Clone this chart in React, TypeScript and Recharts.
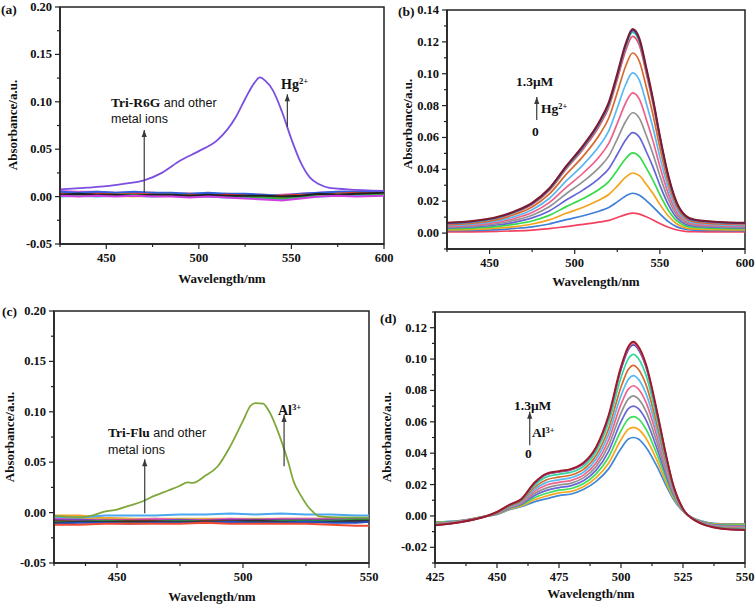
import React from 'react';
import { LineChart, Line, XAxis, YAxis, ReferenceArea, ReferenceLine, ReferenceDot } from 'recharts';

const FONT = "'Liberation Serif','Times New Roman',serif";
const SANS = "'Liberation Sans',Arial,sans-serif";
const INK = '#222';

// ---------- Panel (a): Tri-R6G + metal ions ----------
const aPeakWl = [425, 440, 450, 460, 470, 480, 490, 500, 510, 520, 525, 530, 533, 536, 540, 545, 550, 555, 560, 565, 570, 580, 600];
const aHg = [0.0077, 0.0095, 0.011, 0.0137, 0.0168, 0.025, 0.038, 0.048, 0.0595, 0.084, 0.103, 0.12, 0.1257, 0.122, 0.112, 0.089, 0.0605, 0.036, 0.02, 0.013, 0.0095, 0.0077, 0.006];
const aFlatWl = [425, 435, 445, 455, 465, 475, 485, 495, 505, 515, 525, 535, 545, 555, 565, 575, 585, 600];
const aBlue = [0.005, 0.004, 0.005, 0.004, 0.005, 0.004, 0.004, 0.003, 0.004, 0.003, 0.003, 0.002, 0.001, 0.003, 0.004, 0.005, 0.005, 0.006];
const aMagenta = [0.001, 0.0, 0.001, 0.0, 0.001, 0.0, 0.0, -0.001, 0.0, -0.001, -0.002, -0.003, -0.004, -0.002, 0.0, 0.001, 0.0, 0.001];
const aGreen = [0.002, 0.002, 0.001, 0.002, 0.002, 0.001, 0.002, 0.001, 0.001, 0.0, 0.0, -0.001, -0.002, 0.0, 0.002, 0.002, 0.003, 0.002];
const aRed = [0.003, 0.002, 0.003, 0.002, 0.003, 0.002, 0.001, 0.002, 0.001, 0.002, 0.001, 0.0, 0.001, 0.002, 0.002, 0.003, 0.004, 0.003];
const aBlack = [0.002, 0.003, 0.002, 0.002, 0.001, 0.002, 0.002, 0.001, 0.002, 0.001, 0.001, 0.001, 0.0, 0.001, 0.003, 0.002, 0.003, 0.004];
const aYellow = [0.001, 0.001, 0.002, 0.001, 0.0, 0.001, 0.001, 0.0, 0.001, 0.0, 0.0, -0.001, -0.001, 0.001, 0.001, 0.002, 0.002, 0.003];
const aCyan = [0.0, 0.001, 0.0, 0.001, 0.001, 0.0, 0.001, 0.0, 0.0, -0.001, -0.001, -0.002, -0.003, -0.001, 0.0, 0.001, 0.001, 0.002];
const aOrange = [0.004, 0.003, 0.004, 0.003, 0.003, 0.004, 0.003, 0.003, 0.002, 0.003, 0.002, 0.002, 0.001, 0.002, 0.003, 0.004, 0.004, 0.004];
const aPink = [0.006, 0.005, 0.005, 0.004, 0.004, 0.004, 0.003, 0.003, 0.003, 0.002, 0.002, 0.001, 0.002, 0.003, 0.004, 0.005, 0.005, 0.005];

// ---------- Panel (b): Hg2+ titration ----------
const bWl = [425, 440, 455, 465, 475, 485, 495, 505, 515, 520, 525, 530, 534, 538, 542, 546, 550, 555, 560, 565, 570, 585, 600];
const b01 = [0.0007, 0.0008, 0.0011, 0.0014, 0.0019, 0.0028, 0.0041, 0.0054, 0.007, 0.008, 0.0098, 0.0116, 0.0125, 0.0119, 0.0102, 0.0082, 0.006, 0.0036, 0.0019, 0.0011, 0.0009, 0.0007, 0.0007];
const b02 = [0.0015, 0.0017, 0.0022, 0.0029, 0.0039, 0.0057, 0.0084, 0.0109, 0.014, 0.0161, 0.0196, 0.0233, 0.025, 0.0238, 0.0204, 0.0165, 0.0121, 0.0072, 0.0039, 0.0024, 0.0019, 0.0016, 0.0015];
const b03 = [0.002, 0.0023, 0.0031, 0.0041, 0.0057, 0.0083, 0.0124, 0.0162, 0.021, 0.0242, 0.0295, 0.0351, 0.0377, 0.036, 0.0307, 0.0248, 0.018, 0.0107, 0.0057, 0.0033, 0.0026, 0.0021, 0.002];
const b04 = [0.0027, 0.0031, 0.0042, 0.0056, 0.0076, 0.0111, 0.0166, 0.0217, 0.028, 0.0323, 0.0394, 0.0468, 0.0503, 0.048, 0.0409, 0.0331, 0.0241, 0.0143, 0.0076, 0.0045, 0.0035, 0.0029, 0.0027];
const b05 = [0.0033, 0.0038, 0.0052, 0.0069, 0.0095, 0.0139, 0.0207, 0.0271, 0.035, 0.0404, 0.0493, 0.0586, 0.063, 0.0601, 0.0512, 0.0414, 0.0301, 0.0178, 0.0095, 0.0055, 0.0043, 0.0035, 0.0033];
const b06 = [0.0038, 0.0044, 0.006, 0.0081, 0.0112, 0.0165, 0.0247, 0.0324, 0.0419, 0.0483, 0.059, 0.0702, 0.0755, 0.072, 0.0614, 0.0495, 0.036, 0.0212, 0.0112, 0.0065, 0.005, 0.0041, 0.0038];
const b07 = [0.0043, 0.005, 0.0069, 0.0093, 0.0129, 0.0191, 0.0287, 0.0377, 0.0487, 0.0563, 0.0688, 0.0818, 0.088, 0.0839, 0.0715, 0.0577, 0.0419, 0.0246, 0.0129, 0.0074, 0.0056, 0.0046, 0.0043];
const b08 = [0.0048, 0.0056, 0.0078, 0.0105, 0.0147, 0.0217, 0.0327, 0.043, 0.0556, 0.0642, 0.0785, 0.0934, 0.1005, 0.0958, 0.0816, 0.0659, 0.0478, 0.0281, 0.0147, 0.0083, 0.0063, 0.0052, 0.0048];
const b09 = [0.0053, 0.0062, 0.0086, 0.0118, 0.0164, 0.0244, 0.0368, 0.0483, 0.0625, 0.0722, 0.0882, 0.105, 0.113, 0.1077, 0.0918, 0.074, 0.0537, 0.0315, 0.0164, 0.0093, 0.007, 0.0057, 0.0053];
const b10 = [0.0058, 0.0068, 0.0095, 0.0129, 0.0179, 0.0266, 0.0402, 0.0528, 0.0683, 0.0789, 0.0964, 0.1148, 0.1235, 0.1177, 0.1003, 0.0809, 0.0587, 0.0344, 0.0179, 0.0102, 0.0077, 0.0063, 0.0058];
const b11 = [0.006, 0.007, 0.0097, 0.0132, 0.0184, 0.0272, 0.041, 0.0539, 0.0697, 0.0805, 0.0984, 0.1171, 0.126, 0.1201, 0.1024, 0.0826, 0.0599, 0.0352, 0.0184, 0.0104, 0.0079, 0.0065, 0.006];
const b12 = [0.0062, 0.0072, 0.0099, 0.0135, 0.0186, 0.0276, 0.0415, 0.0544, 0.0703, 0.0812, 0.0992, 0.1181, 0.127, 0.1211, 0.1032, 0.0833, 0.0604, 0.0356, 0.0186, 0.0107, 0.0081, 0.0067, 0.0062];
const b13 = [0.0065, 0.0075, 0.0102, 0.0138, 0.019, 0.028, 0.042, 0.055, 0.071, 0.082, 0.1, 0.119, 0.128, 0.122, 0.104, 0.084, 0.061, 0.036, 0.019, 0.011, 0.0085, 0.007, 0.0065];
const bColors = ['#f2425f', '#3f7fd8', '#f5a31a', '#35dc4a', '#6464d8', '#929292', '#f0608a', '#58b8f2', '#d66a2c', '#ee4a6a', '#2fcc9a', '#3a4ec6', '#7d1a2e'];

// ---------- Panel (c): Tri-Flu + metal ions ----------
const cPeakWl = [425, 435, 440, 445, 450, 455, 460, 465, 470, 475, 478, 480, 485, 490, 495, 500, 503, 505, 508, 510, 515, 518, 520, 523, 526, 528, 530, 535, 550];
const cAl = [-0.003, -0.0046, -0.003, 0.001, 0.003, 0.007, 0.011, 0.0168, 0.0217, 0.0266, 0.03, 0.0295, 0.0365, 0.046, 0.066, 0.091, 0.106, 0.1087, 0.108, 0.102, 0.0726, 0.0496, 0.0315, 0.0168, 0.0053, 0.0003, -0.0036, -0.0046, -0.005];
const cFlatWl = [425, 435, 445, 455, 465, 475, 485, 495, 505, 515, 525, 535, 545, 550];
const cSky = [-0.004, -0.005, -0.003, -0.003, -0.003, -0.002, -0.002, -0.001, -0.002, -0.001, -0.002, -0.002, -0.003, -0.003];
const cOrange = [-0.003, -0.003, -0.005, -0.006, -0.007, -0.007, -0.007, -0.007, -0.007, -0.008, -0.008, -0.007, -0.007, -0.007];
const cRed = [-0.012, -0.012, -0.011, -0.011, -0.011, -0.011, -0.01, -0.011, -0.011, -0.011, -0.011, -0.012, -0.013, -0.013];
const cDarkRed = [-0.008, -0.009, -0.008, -0.008, -0.008, -0.009, -0.008, -0.008, -0.008, -0.008, -0.008, -0.008, -0.009, -0.009];
const cBlue = [-0.011, -0.01, -0.01, -0.011, -0.01, -0.01, -0.01, -0.009, -0.01, -0.01, -0.009, -0.01, -0.01, -0.009];
const cGreen = [-0.009, -0.009, -0.008, -0.009, -0.009, -0.008, -0.009, -0.009, -0.009, -0.008, -0.008, -0.008, -0.007, -0.007];
const cPurple = [-0.007, -0.007, -0.008, -0.008, -0.008, -0.007, -0.008, -0.007, -0.007, -0.007, -0.007, -0.007, -0.006, -0.006];
const cBlack = [-0.01, -0.009, -0.009, -0.009, -0.009, -0.009, -0.009, -0.009, -0.008, -0.009, -0.009, -0.009, -0.008, -0.008];
const cPink = [-0.006, -0.007, -0.007, -0.007, -0.006, -0.007, -0.007, -0.006, -0.007, -0.006, -0.006, -0.006, -0.006, -0.005];
const cYellow = [-0.005, -0.006, -0.006, -0.006, -0.006, -0.006, -0.006, -0.006, -0.006, -0.006, -0.006, -0.006, -0.006, -0.006];

// ---------- Panel (d): Al3+ titration ----------
const dWl = [425, 435, 445, 450, 455, 460, 465, 470, 475, 480, 485, 490, 495, 500, 503, 505, 507, 510, 515, 518, 521, 525, 530, 540, 550];
const d01 = [-0.004, -0.003, -0.0003, 0.001, 0.004, 0.006, 0.009, 0.011, 0.013, 0.014, 0.017, 0.022, 0.03, 0.043, 0.049, 0.05, 0.049, 0.044, 0.03, 0.02, 0.011, 0.003, -0.002, -0.005, -0.005];
const d02 = [-0.0042, -0.0031, -0.0003, 0.0012, 0.0043, 0.0065, 0.0103, 0.0127, 0.0147, 0.0157, 0.0188, 0.0244, 0.0336, 0.0486, 0.0553, 0.0565, 0.0553, 0.0497, 0.0335, 0.0221, 0.012, 0.0032, -0.0021, -0.0053, -0.0054];
const d03 = [-0.0044, -0.0032, -0.0003, 0.0013, 0.0047, 0.0071, 0.0116, 0.0145, 0.0164, 0.0175, 0.0207, 0.0268, 0.0374, 0.0543, 0.0619, 0.0633, 0.0619, 0.0556, 0.0372, 0.0244, 0.013, 0.0033, -0.0022, -0.0057, -0.0059];
const d04 = [-0.0047, -0.0033, -0.0004, 0.0015, 0.005, 0.0076, 0.0129, 0.0163, 0.0181, 0.0193, 0.0226, 0.0292, 0.0412, 0.0601, 0.0684, 0.07, 0.0684, 0.0614, 0.0408, 0.0266, 0.014, 0.0035, -0.0023, -0.006, -0.0063];
const d05 = [-0.0049, -0.0034, -0.0004, 0.0017, 0.0053, 0.0082, 0.0142, 0.0179, 0.0197, 0.0209, 0.0244, 0.0316, 0.0448, 0.0656, 0.0746, 0.0765, 0.0746, 0.067, 0.0443, 0.0287, 0.0149, 0.0037, -0.0024, -0.0063, -0.0067];
const d06 = [-0.0051, -0.0035, -0.0004, 0.0018, 0.0056, 0.0087, 0.0155, 0.0197, 0.0214, 0.0227, 0.0262, 0.0339, 0.0484, 0.0711, 0.0809, 0.083, 0.0809, 0.0727, 0.0479, 0.0308, 0.0159, 0.0038, -0.0025, -0.0066, -0.0072];
const d07 = [-0.0053, -0.0036, -0.0004, 0.002, 0.0059, 0.0092, 0.0168, 0.0214, 0.023, 0.0244, 0.028, 0.0363, 0.052, 0.0767, 0.0872, 0.0895, 0.0872, 0.0783, 0.0514, 0.033, 0.0168, 0.004, -0.0026, -0.0069, -0.0076];
const d08 = [-0.0055, -0.0038, -0.0005, 0.0021, 0.0063, 0.0098, 0.0181, 0.0231, 0.0247, 0.0261, 0.0298, 0.0386, 0.0556, 0.0822, 0.0935, 0.096, 0.0935, 0.084, 0.0549, 0.0351, 0.0178, 0.0041, -0.0028, -0.0073, -0.008];
const d09 = [-0.0057, -0.0039, -0.0005, 0.0023, 0.0066, 0.0104, 0.0194, 0.0249, 0.0265, 0.0279, 0.0318, 0.0411, 0.0595, 0.0882, 0.1003, 0.103, 0.1003, 0.0901, 0.0587, 0.0374, 0.0188, 0.0043, -0.0029, -0.0076, -0.0085];
const d10 = [-0.0059, -0.004, -0.0005, 0.0025, 0.0069, 0.0108, 0.0206, 0.0265, 0.028, 0.0295, 0.0334, 0.0433, 0.0629, 0.0933, 0.1061, 0.109, 0.1061, 0.0953, 0.0619, 0.0393, 0.0197, 0.0045, -0.003, -0.0079, -0.0089];
const d11 = [-0.006, -0.004, -0.0005, 0.0025, 0.007, 0.0109, 0.0208, 0.0267, 0.0283, 0.0297, 0.0337, 0.0436, 0.0635, 0.0942, 0.1071, 0.11, 0.1071, 0.0962, 0.0625, 0.0397, 0.0199, 0.0045, -0.003, -0.008, -0.0089];
const d12 = [-0.006, -0.004, -0.0005, 0.0025, 0.007, 0.011, 0.021, 0.027, 0.0285, 0.03, 0.034, 0.044, 0.064, 0.095, 0.108, 0.111, 0.108, 0.097, 0.063, 0.04, 0.02, 0.0045, -0.003, -0.008, -0.009];
const dColors = ['#3f88d8', '#f7a620', '#40de5a', '#6666d8', '#919191', '#f0628a', '#58baf2', '#d36c2c', '#34d69c', '#3c4cc8', '#f06c8c', '#9a1c2c'];

// ---------- Axis ticks ----------
const abXTicks = [425, 450, 475, 500, 525, 550, 575, 600];
const abXMajors = [450, 500, 550, 600];
const acYTicks = [-0.05, -0.025, 0, 0.025, 0.05, 0.075, 0.1, 0.125, 0.15, 0.175, 0.2];
const acYMajors = [-0.05, 0, 0.05, 0.1, 0.15, 0.2];
const bYTicks = [-0.01, 0, 0.01, 0.02, 0.03, 0.04, 0.05, 0.06, 0.07, 0.08, 0.09, 0.1, 0.11, 0.12, 0.13, 0.14];
const bYMajors = [0, 0.02, 0.04, 0.06, 0.08, 0.1, 0.12, 0.14];
const cXTicks = [425, 437.5, 450, 475, 500, 525, 550];
const cXMajors = [450, 500, 550];
const dXTicks = [425, 437.5, 450, 462.5, 475, 487.5, 500, 512.5, 525, 537.5, 550];
const dXMajors = [425, 450, 475, 500, 525, 550];
const dYTicks = [-0.03, -0.02, -0.01, 0, 0.01, 0.02, 0.03, 0.04, 0.05, 0.06, 0.07, 0.08, 0.09, 0.1, 0.11, 0.12, 0.13];
const dYMajors = [-0.02, 0, 0.02, 0.04, 0.06, 0.08, 0.1, 0.12];

type Series = { wl: number[]; vals: number[]; color: string; width?: number; linear?: boolean };
type Arrow = { x: number; y1: number; y2: number };
type Box = { left: number; top: number; width: number; height: number };

const isMajor = (majors: number[], v: number) => majors.some((m) => Math.abs(m - v) < 1e-9);

function XTick(props: any) {
  const { x, y, payload, majors } = props;
  const major = isMajor(majors, payload.value);
  return (
    <g>
      <line x1={x} x2={x} y1={y} y2={y + (major ? 5 : 3)} stroke={INK} strokeWidth={1.2} />
      {major && (
        <text x={x} y={y + 18} textAnchor="middle" fontFamily={FONT} fontWeight="bold" fontSize={12.5} fill="#111">
          {payload.value}
        </text>
      )}
    </g>
  );
}

function YTick(props: any) {
  const { x, y, payload, majors } = props;
  const major = isMajor(majors, payload.value);
  const v = Math.abs(payload.value) < 1e-12 ? 0 : payload.value;
  return (
    <g>
      <line x1={x} x2={x - (major ? 5 : 3)} y1={y} y2={y} stroke={INK} strokeWidth={1.2} />
      {major && (
        <text x={x - 8} y={y + 4} textAnchor="end" fontFamily={FONT} fontWeight="bold" fontSize={12.5} fill="#111">
          {v.toFixed(2)}
        </text>
      )}
    </g>
  );
}

function ArrowHead(p: any) {
  const { cx, cy } = p;
  return <path d={`M${cx},${cy} L${cx - 2.6},${cy + 7} L${cx + 2.6},${cy + 7} Z`} fill="#3a3a3a" />;
}

function Panel(props: {
  box: Box;
  xDomain: [number, number];
  yDomain: [number, number];
  xTicks: number[];
  xMajors: number[];
  yTicks: number[];
  yMajors: number[];
  series: Series[];
  arrows: Arrow[];
}) {
  const { box, xDomain, yDomain, xTicks, xMajors, yTicks, yMajors, series, arrows } = props;
  const ml = 60, mt = 10, mr = 10, xh = 40;
  return (
    <div style={{ position: 'absolute', left: box.left - ml, top: box.top - mt }}>
      <LineChart width={box.width + ml + mr} height={box.height + mt + xh} margin={{ top: mt, right: mr, left: 0, bottom: 0 }}>
        <XAxis
          type="number"
          dataKey="w"
          domain={xDomain}
          ticks={xTicks}
          interval={0}
          allowDataOverflow
          height={xh}
          tickSize={0}
          tickMargin={0}
          tickLine={false}
          axisLine={{ stroke: INK, strokeWidth: 1.5 }}
          tick={(p: any) => <XTick {...p} majors={xMajors} />}
        />
        <YAxis
          type="number"
          domain={yDomain}
          ticks={yTicks}
          interval={0}
          allowDataOverflow
          width={ml}
          tickSize={0}
          tickMargin={0}
          tickLine={false}
          axisLine={{ stroke: INK, strokeWidth: 1.5 }}
          tick={(p: any) => <YTick {...p} majors={yMajors} />}
        />
        <ReferenceArea x1={xDomain[0]} x2={xDomain[1]} y1={yDomain[0]} y2={yDomain[1]} fill="none" fillOpacity={0} stroke={INK} strokeWidth={1.5} ifOverflow="visible" />
        {series.map((s, i) => (
          <Line
            key={i}
            data={s.wl.map((w, j) => ({ w, v: s.vals[j] }))}
            dataKey="v"
            type={s.linear ? 'linear' : 'monotone'}
            stroke={s.color}
            strokeWidth={s.width ?? 1.7}
            dot={false}
            activeDot={false}
            isAnimationActive={false}
          />
        ))}
        {arrows.map((a, i) => (
          <ReferenceLine key={'l' + i} segment={[{ x: a.x, y: a.y1 }, { x: a.x, y: a.y2 }]} stroke="#3a3a3a" strokeWidth={1.2} />
        ))}
        {arrows.map((a, i) => (
          <ReferenceDot key={'d' + i} x={a.x} y={a.y2} r={3} shape={(p: any) => <ArrowHead {...p} />} />
        ))}
      </LineChart>
    </div>
  );
}

function Txt(props: { x: number; y: number; children: React.ReactNode; size?: number; bold?: boolean; family?: string; center?: boolean; vertical?: boolean }) {
  const { x, y, children, size = 13, bold = true, family = FONT, center = false, vertical = false } = props;
  const tr = vertical ? 'translate(-50%,-50%) rotate(-90deg)' : center ? 'translate(-50%,-50%)' : 'translate(0,-50%)';
  return (
    <div
      style={{
        position: 'absolute',
        left: x,
        top: y,
        transform: tr,
        fontFamily: family,
        fontSize: size,
        fontWeight: bold ? 700 : 400,
        whiteSpace: 'nowrap',
        lineHeight: 1,
        color: '#111',
      }}
    >
      {children}
    </div>
  );
}

const Sup = ({ children }: { children: React.ReactNode }) => (
  <sup style={{ fontSize: '0.62em', verticalAlign: '0.55em', lineHeight: 0 }}>{children}</sup>
);

export default function App() {
  const aSeries: Series[] = [
    { wl: aFlatWl, vals: aPink, color: '#e65bd0', linear: true, width: 2 },
    { wl: aFlatWl, vals: aOrange, color: '#f0902a', linear: true, width: 2 },
    { wl: aFlatWl, vals: aBlue, color: '#3060e0', linear: true, width: 2 },
    { wl: aFlatWl, vals: aRed, color: '#e03030', linear: true, width: 2 },
    { wl: aFlatWl, vals: aYellow, color: '#e8d020', linear: true, width: 2 },
    { wl: aFlatWl, vals: aCyan, color: '#20c8d8', linear: true, width: 2 },
    { wl: aFlatWl, vals: aGreen, color: '#30b040', linear: true, width: 2 },
    { wl: aFlatWl, vals: aBlack, color: '#222222', linear: true, width: 2 },
    { wl: aFlatWl, vals: aMagenta, color: '#d040e0', linear: true, width: 2 },
    { wl: aPeakWl, vals: aHg, color: '#7b4fe0', width: 1.8 },
  ];
  const bVals = [b01, b02, b03, b04, b05, b06, b07, b08, b09, b10, b11, b12, b13];
  const bSeries: Series[] = bVals.map((v, i) => ({ wl: bWl, vals: v, color: bColors[i], width: i === 12 ? 2 : 1.7 }));
  const cSeries: Series[] = [
    { wl: cFlatWl, vals: cOrange, color: '#f0a030', linear: true, width: 2 },
    { wl: cFlatWl, vals: cYellow, color: '#e0c020', linear: true, width: 2 },
    { wl: cFlatWl, vals: cPink, color: '#e860b0', linear: true, width: 2 },
    { wl: cFlatWl, vals: cPurple, color: '#8040c0', linear: true, width: 2 },
    { wl: cFlatWl, vals: cDarkRed, color: '#8b2020', linear: true, width: 2 },
    { wl: cFlatWl, vals: cGreen, color: '#30a040', linear: true, width: 2 },
    { wl: cFlatWl, vals: cBlack, color: '#333333', linear: true, width: 2 },
    { wl: cFlatWl, vals: cBlue, color: '#2050c0', linear: true, width: 2 },
    { wl: cFlatWl, vals: cRed, color: '#f04a30', linear: true, width: 2 },
    { wl: cFlatWl, vals: cSky, color: '#4aa8f0', linear: true, width: 2 },
    { wl: cPeakWl, vals: cAl, color: '#7fa83a', width: 1.8 },
  ];
  const dVals = [d01, d02, d03, d04, d05, d06, d07, d08, d09, d10, d11, d12];
  const dSeries: Series[] = dVals.map((v, i) => ({ wl: dWl, vals: v, color: dColors[i], width: i === 11 ? 2 : 1.7 }));

  return (
    <div style={{ position: 'absolute', left: 0, top: 0, width: 756, height: 608, background: '#fff', overflow: 'hidden' }}>
      <Panel
        box={{ left: 60, top: 7, width: 324, height: 237 }}
        xDomain={[425, 600]}
        yDomain={[-0.05, 0.2]}
        xTicks={abXTicks}
        xMajors={abXMajors}
        yTicks={acYTicks}
        yMajors={acYMajors}
        series={aSeries}
        arrows={[
          { x: 470.5, y1: 0.004, y2: 0.0703 },
          { x: 547.8, y1: 0.0734, y2: 0.108 },
        ]}
      />
      <Panel
        box={{ left: 447, top: 10, width: 298, height: 239 }}
        xDomain={[425, 600]}
        yDomain={[-0.01, 0.14]}
        xTicks={abXTicks}
        xMajors={abXMajors}
        yTicks={bYTicks}
        yMajors={bYMajors}
        series={bSeries}
        arrows={[{ x: 477.7, y1: 0.071, y2: 0.0854 }]}
      />
      <Panel
        box={{ left: 54, top: 311, width: 315, height: 252 }}
        xDomain={[425, 550]}
        yDomain={[-0.05, 0.2]}
        xTicks={cXTicks}
        xMajors={cXMajors}
        yTicks={acYTicks}
        yMajors={acYMajors}
        series={cSeries}
        arrows={[
          { x: 461, y1: -0.0007, y2: 0.0529 },
          { x: 516.3, y1: 0.046, y2: 0.0968 },
        ]}
      />
      <Panel
        box={{ left: 435, top: 312, width: 310, height: 251 }}
        xDomain={[425, 550]}
        yDomain={[-0.03, 0.13]}
        xTicks={dXTicks}
        xMajors={dXMajors}
        yTicks={dYTicks}
        yMajors={dYMajors}
        series={dSeries}
        arrows={[{ x: 463.2, y1: 0.0451, y2: 0.0664 }]}
      />

      {/* panel (a) text */}
      <Txt x={1} y={10} size={13.5}>(a)</Txt>
      <Txt x={12} y={125} vertical>Absorbance/a.u.</Txt>
      <Txt x={222} y={278} center>Wavelength/nm</Txt>
      <Txt x={111} y={103} size={13.5}>
        <span>Tri-R6G</span>
        <span style={{ fontFamily: SANS, fontWeight: 400, fontSize: 12.5 }}> and other</span>
      </Txt>
      <Txt x={111} y={119} family={SANS} bold={false} size={12.5}>metal ions</Txt>
      <Txt x={281} y={85} size={14}>Hg<Sup>2+</Sup></Txt>

      {/* panel (b) text */}
      <Txt x={398} y={12} size={13.5}>(b)</Txt>
      <Txt x={407} y={124} vertical>Absorbance/a.u.</Txt>
      <Txt x={596} y={281} center>Wavelength/nm</Txt>
      <Txt x={516} y={82} size={13.5}>1.3μM</Txt>
      <Txt x={541} y={109} size={13.5}>Hg<Sup>2+</Sup></Txt>
      <Txt x={532} y={132} size={13.5}>0</Txt>

      {/* panel (c) text */}
      <Txt x={2} y={312} size={13.5}>(c)</Txt>
      <Txt x={9} y={437} vertical>Absorbance/a.u.</Txt>
      <Txt x={212} y={596} center>Wavelength/nm</Txt>
      <Txt x={108} y={433} size={13.5}>
        <span>Tri-Flu</span>
        <span style={{ fontFamily: SANS, fontWeight: 400, fontSize: 12.5 }}> and other</span>
      </Txt>
      <Txt x={108} y={450} family={SANS} bold={false} size={12.5}>metal ions</Txt>
      <Txt x={278} y={411} size={14}>Al<Sup>3+</Sup></Txt>

      {/* panel (d) text */}
      <Txt x={380} y={319} size={13.5}>(d)</Txt>
      <Txt x={386} y={437} vertical>Absorbance/a.u.</Txt>
      <Txt x={591} y={593} center>Wavelength/nm</Txt>
      <Txt x={514} y={406} size={13.5}>1.3μM</Txt>
      <Txt x={532} y={433} size={13.5}>Al<Sup>3+</Sup></Txt>
      <Txt x={525} y={454} size={13.5}>0</Txt>
    </div>
  );
}
